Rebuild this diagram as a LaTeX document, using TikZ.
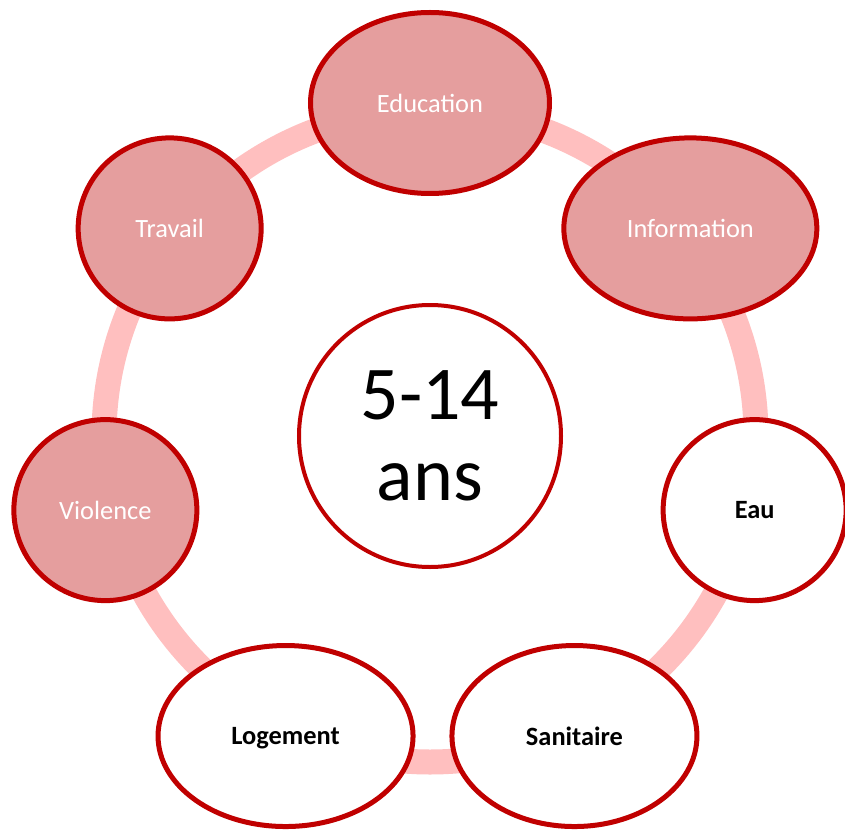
\documentclass[tikz,border=0pt]{standalone}
\usepackage{fontspec}
\setmainfont{Carlito}
\usetikzlibrary{shapes.geometric}
\definecolor{rougefonce}{HTML}{C00000}
\definecolor{rosefond}{HTML}{E59E9E}
\definecolor{roseanneau}{HTML}{FFBFBF}
\begin{document}
\begin{tikzpicture}[x=1pt,y=1pt,
    bulle/.style={ellipse,draw=rougefonce,line width=5pt,inner sep=0pt,minimum height=181pt,text depth=0pt},
    pleine/.style={bulle,fill=rosefond,text=white,font=\fontsize{26.4}{30}\selectfont},
    vide/.style={bulle,fill=white,font=\fontsize{26.4}{30}\selectfont\bfseries}]
    \useasboundingbox (-430,-394) rectangle (415,436);
    \coordinate (o) at (0,0);
    \draw[roseanneau,line width=25pt] (o) circle[radius=326];
    \node[ellipse,draw=rougefonce,line width=4pt,fill=white,inner sep=0pt,minimum size=262pt,align=center,font=\fontsize{76}{81}\selectfont] (age) at (o) {5-14\\ans};
    \foreach \nom/\ang/\lar/\sty/\texte in {educ/90/239/pleine/Education, info/38.57/253/pleine/Information, eau/-12.86/183/vide/Eau, sani/-64.29/245/vide/Sanitaire, loge/-115.71/255/vide/Logement, viol/-167.14/183/pleine/Violence, trav/141.43/183/pleine/Travail} {
        \node[\sty,minimum width=\lar pt] (\nom) at (\ang:333) {\texte};
    }
\end{tikzpicture}
\end{document}
